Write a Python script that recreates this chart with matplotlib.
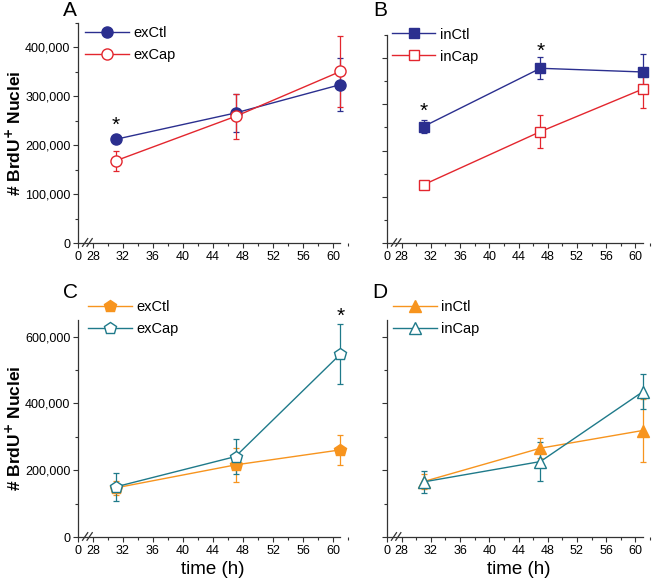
import numpy as np
import matplotlib
matplotlib.use("Agg")
import matplotlib.pyplot as plt
from matplotlib.ticker import FixedLocator, MultipleLocator, FuncFormatter

plt.rcParams['font.family'] = ['Liberation Sans', 'DejaVu Sans']

# sampling times (h)
time = [31, 47, 61]

# panel A - external, control vs capsaicin
exCtl_A = [212000, 266000, 324000]
exCtl_A_err = [8000, 38000, 55000]
exCap_A = [168000, 259000, 351000]
exCap_A_err = [20000, 46000, 72000]

# panel B - internal
inCtl_B = [252000, 378000, 370000]
inCtl_B_err = [14000, 24000, 38000]
inCap_B = [126000, 241000, 333000]
inCap_B_err = [6000, 35000, 41000]

# panel C - external
exCtl_C = [147000, 216000, 261000]
exCtl_C_err = [22000, 52000, 46000]
exCap_C = [150000, 241000, 548000]
exCap_C_err = [42000, 53000, 91000]

# panel D - internal
inCtl_D = [166000, 266000, 319000]
inCtl_D_err = [22000, 30000, 95000]
inCap_D = [165000, 226000, 435000]
inCap_D_err = [34000, 59000, 52000]

# x tick labels ("0" sits just before the axis break)
xtick_pos = [26, 28, 32, 36, 40, 44, 48, 52, 56, 60]
xtick_lab = ['0', '28', '32', '36', '40', '44', '48', '52', '56', '60']

blue = '#2b2f8f'
red = '#e3262e'
orange = '#f7941e'
teal = '#1f7a8a'

fig = plt.figure(figsize=(6.62, 5.79), dpi=100)
H = 579.0
W = 662.0


def make_ax(left, top, right, bottom):
    return fig.add_axes([left / W, (H - bottom) / H, (right - left) / W, (bottom - top) / H])


axA = make_ax(78, 23, 348, 243)
axB = make_ax(387, 35, 650, 243)
axC = make_ax(78, 320, 348, 537)
axD = make_ax(387, 320, 650, 537)


def series(ax, y, err, color, marker, label, filled, ms):
    ax.errorbar(time, y, yerr=err, fmt='none', ecolor=color, elinewidth=0.9,
                capsize=2.5, capthick=0.9, zorder=2)
    ax.plot(time, y, color=color, lw=1.0, marker=marker, ms=ms,
            mfc=color if filled else 'white', mec=color, mew=1.0,
            label=label, zorder=3)


def style(ax, ymax, ymaj, ymin, ylabels, xlabel):
    ax.set_xlim(26, 62)
    ax.set_ylim(0, ymax)
    for s in ['top', 'right']:
        ax.spines[s].set_visible(False)
    for s in ['left', 'bottom']:
        ax.spines[s].set_color('#333333')
        ax.spines[s].set_linewidth(0.9)
    ax.spines['bottom'].set_bounds(26, 61)
    ax.xaxis.set_major_locator(FixedLocator(xtick_pos))
    ax.set_xticklabels(xtick_lab)
    ax.xaxis.set_minor_locator(FixedLocator(list(range(30, 60, 4)) + [62]))
    ax.yaxis.set_major_locator(MultipleLocator(ymaj))
    ax.yaxis.set_minor_locator(MultipleLocator(ymin))
    ax.tick_params(which='major', length=3.5, width=0.8, color='#333333',
                   labelsize=9, pad=2)
    ax.tick_params(which='minor', length=2, width=0.8, color='#333333')
    if ylabels:
        ax.yaxis.set_major_formatter(FuncFormatter(lambda v, p: '{:,.0f}'.format(v)))
        ax.set_ylabel('# BrdU$^{\\mathbf{+}}$ Nuclei', fontsize=12.5,
                      fontweight='bold', labelpad=1)
    else:
        ax.set_yticklabels([])
    if xlabel:
        ax.set_xlabel('time (h)', fontsize=13.5, labelpad=3)
    # axis break marks
    tr = ax.get_xaxis_transform()
    for dx in (0, 0.6):
        ax.plot([26.6 + dx, 27.3 + dx], [-0.015, 0.02], color='#333333',
                lw=0.9, transform=tr, clip_on=False)


def legend(ax, x, y):
    ax.legend(loc='upper left', bbox_to_anchor=(x, y), frameon=False,
              fontsize=10.5, handlelength=3.0, handletextpad=0.3,
              labelspacing=0.55, borderaxespad=0, borderpad=0, numpoints=1)


series(axA, exCtl_A, exCtl_A_err, blue, 'o', 'exCtl', True, 8)
series(axA, exCap_A, exCap_A_err, red, 'o', 'exCap', False, 8)
style(axA, 450000, 100000, 50000, True, False)
legend(axA, 0.026, 0.986)
axA.text(31, 241000, '*', ha='center', va='center', fontsize=15)

series(axB, inCtl_B, inCtl_B_err, blue, 's', 'inCtl', True, 7.5)
series(axB, inCap_B, inCap_B_err, red, 's', 'inCap', False, 7.5)
style(axB, 450000, 100000, 50000, False, False)
legend(axB, 0.018, 1.036)
axB.text(31, 284000, '*', ha='center', va='center', fontsize=15)
axB.text(47, 415000, '*', ha='center', va='center', fontsize=15)

series(axC, exCtl_C, exCtl_C_err, orange, 'p', 'exCtl', True, 9)
series(axC, exCap_C, exCap_C_err, teal, 'p', 'exCap', False, 9)
style(axC, 650000, 200000, 100000, True, True)
legend(axC, 0.037, 1.09)
axC.text(61, 662000, '*', ha='center', va='center', fontsize=15)

series(axD, inCtl_D, inCtl_D_err, orange, '^', 'inCtl', True, 8)
series(axD, inCap_D, inCap_D_err, teal, '^', 'inCap', False, 8)
style(axD, 650000, 200000, 100000, False, True)
legend(axD, 0.023, 1.09)

for lab, x, y in [('A', 70, 10), ('B', 380, 10), ('C', 70, 293), ('D', 380, 293)]:
    fig.text(x / W, (H - y) / H, lab, fontsize=15, ha='center', va='center')

fig.savefig('out.png', dpi=100)
